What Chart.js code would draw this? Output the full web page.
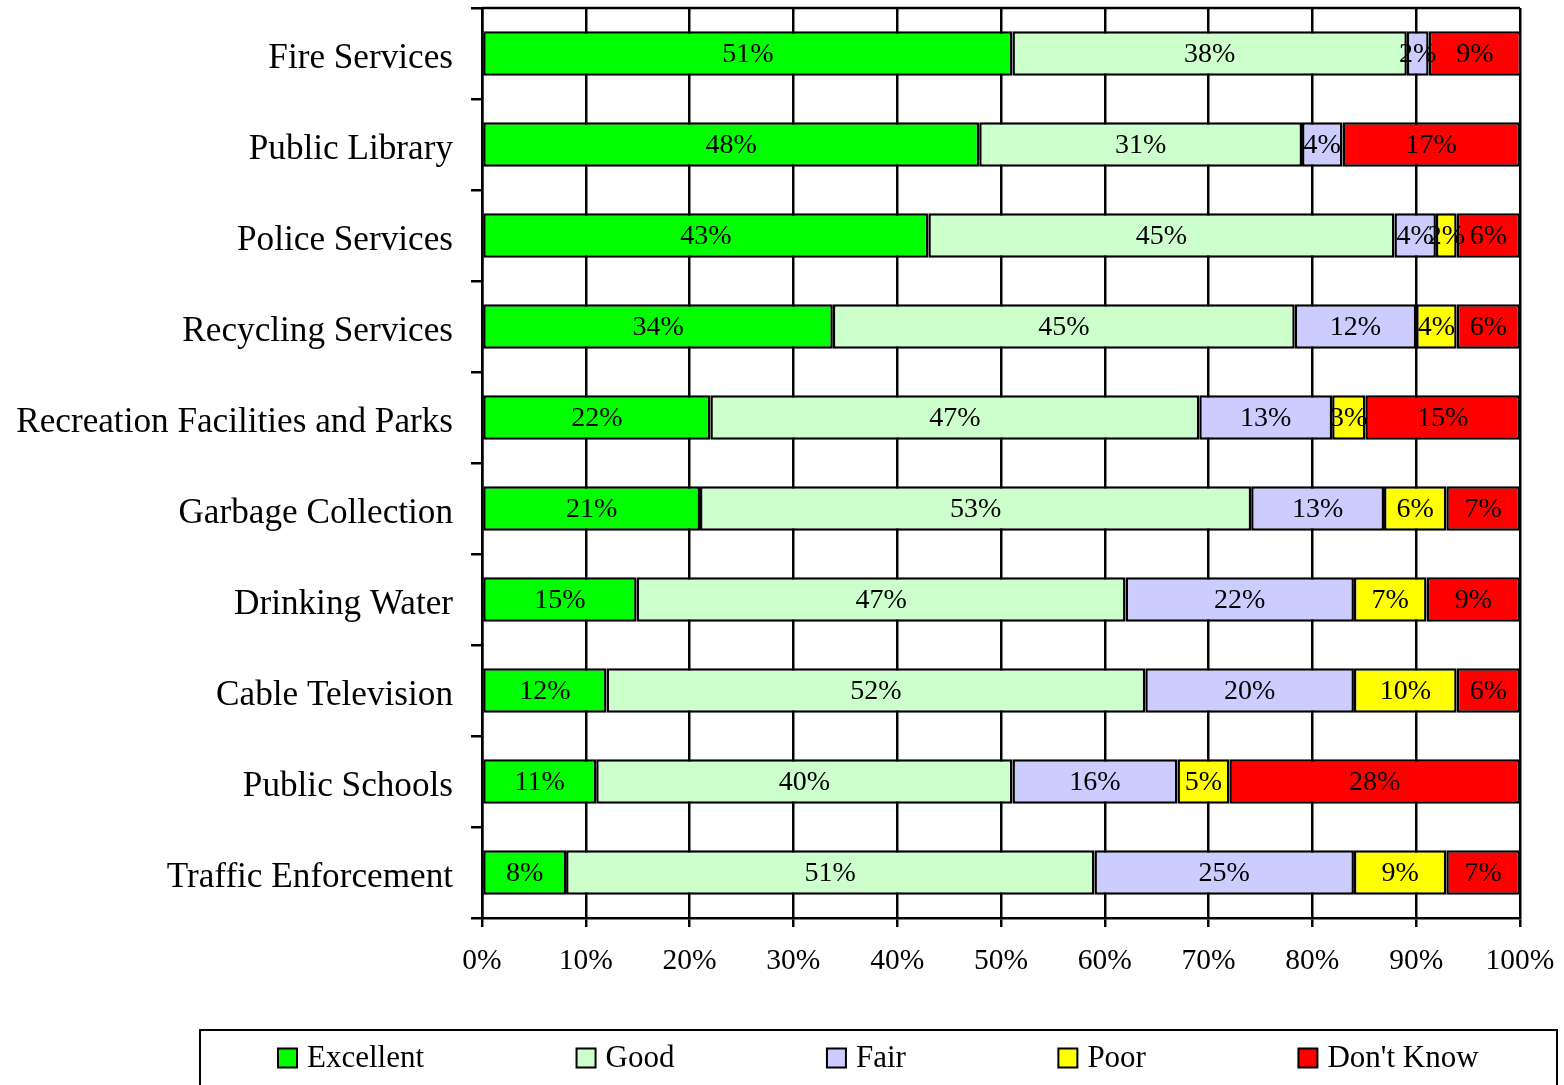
<!DOCTYPE html>
<html>
<head>
<meta charset="utf-8">
<title>Service ratings</title>
<script src="https://cdn.jsdelivr.net/npm/chart.js@4"></script>
<style>
  html, body { margin: 0; padding: 0; background: #fff; }
  #wrap { width: 1564px; height: 1085px; }
</style>
</head>
<body>
<div id="wrap"><canvas id="ratingChart" width="1564" height="1085"></canvas></div>
<script>
// services, top to bottom
const services = [
  "Fire Services", "Public Library", "Police Services", "Recycling Services",
  "Recreation Facilities and Parks", "Garbage Collection", "Drinking Water",
  "Cable Television", "Public Schools", "Traffic Enforcement"
];
const excellent = [51.1, 47.9, 43.0, 33.8, 22.0, 21.0, 14.9, 12.0, 11.0, 8.1];
const good      = [38.0, 31.1, 44.9, 44.5, 47.1, 53.1, 47.1, 51.9, 40.1, 50.9];
const fair      = [2.1, 3.9, 4.0, 11.7, 12.8, 12.8, 22.0, 20.1, 15.9, 25.0];
const poor      = [0, 0, 2.0, 3.9, 3.2, 6.0, 7.0, 9.9, 5.0, 8.9];
const dontKnow  = [8.9, 17.1, 6.1, 6.1, 14.9, 7.1, 9.0, 6.1, 28.0, 7.1];
const seriesNames = ["Excellent", "Good", "Fair", "Poor", "Don't Know"];
const seriesColors = ["#00FF00", "#CCFFCC", "#CCCCFF", "#FFFF00", "#FF0000"];
const tickValues = [0, 10, 20, 30, 40, 50, 60, 70, 80, 90, 100];

const serif = "'Liberation Serif', 'Times New Roman', serif";
const lw = 2.5;

const barLabels = {
  id: "barLabels",
  afterDatasetsDraw(chart) {
    const ctx = chart.ctx;
    ctx.save();
    ctx.font = "28px " + serif;
    ctx.fillStyle = "#000";
    ctx.textAlign = "center";
    ctx.textBaseline = "middle";
    chart.data.datasets.forEach((ds, i) => {
      const meta = chart.getDatasetMeta(i);
      meta.data.forEach((bar, j) => {
        const v = ds.data[j];
        if (!v) return;
        ctx.fillText(Math.round(v) + "%", (bar.x + bar.base) / 2, bar.y + 1);
      });
    });
    ctx.restore();
  }
};

const frameAndLegend = {
  id: "frameAndLegend",
  afterDraw(chart) {
    const ctx = chart.ctx;
    const a = chart.chartArea;
    ctx.save();
    ctx.strokeStyle = "#000";
    ctx.lineWidth = lw;
    ctx.beginPath();
    ctx.moveTo(a.left, a.top);
    ctx.lineTo(a.right, a.top);
    ctx.stroke();

    // legend box
    const boxL = 200, boxR = 1557, boxT = 1030;
    ctx.lineWidth = 2;
    ctx.beginPath();
    ctx.moveTo(boxL, 1090);
    ctx.lineTo(boxL, boxT);
    ctx.lineTo(boxR, boxT);
    ctx.lineTo(boxR, 1090);
    ctx.stroke();

    ctx.font = "31px " + serif;
    ctx.textBaseline = "middle";
    ctx.textAlign = "left";
    const sq = 19, gap = 10, spacing = 152.5;
    const items = chart.data.datasets.map(ds => ({
      label: ds.label, color: ds.backgroundColor, w: ctx.measureText(ds.label).width
    }));
    let x = 278;
    const cy = 1058;
    items.forEach(it => {
      ctx.fillStyle = it.color;
      ctx.fillRect(x, cy - sq / 2, sq, sq);
      ctx.strokeRect(x, cy - sq / 2, sq, sq);
      ctx.fillStyle = "#000";
      ctx.fillText(it.label, x + sq + gap, cy + 1);
      x += sq + gap + it.w + spacing;
    });
    ctx.restore();
  }
};

const seriesData = [excellent, good, fair, poor, dontKnow];

new Chart(document.getElementById("ratingChart"), {
  type: "bar",
  data: {
    labels: services,
    datasets: seriesNames.map((name, i) => ({
      label: name,
      data: seriesData[i],
      backgroundColor: seriesColors[i],
      borderColor: "#000",
      borderWidth: lw,
      borderSkipped: false,
      barPercentage: 0.49,
      categoryPercentage: 1
    }))
  },
  options: {
    indexAxis: "y",
    responsive: false,
    animation: false,
    layout: { padding: { left: 15, right: 44, top: 8, bottom: 107 } },
    plugins: {
      legend: { display: false },
      tooltip: { enabled: false }
    },
    scales: {
      x: {
        stacked: true,
        min: 0,
        max: 100,
        afterBuildTicks(scale) { scale.ticks = tickValues.map(v => ({ value: v })); },
        afterFit(scale) { scale.height = 60; scale.paddingLeft = 0; scale.paddingRight = 0; },
        grid: { color: "#000", lineWidth: lw, tickLength: 9, drawOnChartArea: true },
        border: { color: "#000", width: lw },
        ticks: {
          color: "#000",
          padding: 17,
          maxRotation: 0,
          font: { family: serif, size: 29.5 },
          callback: v => v + "%"
        }
      },
      y: {
        stacked: true,
        afterFit(scale) { scale.width = 467; scale.paddingTop = 0; scale.paddingBottom = 0; },
        grid: { color: "#000", lineWidth: lw, tickLength: 11, drawOnChartArea: false, offset: true },
        border: { color: "#000", width: lw },
        ticks: {
          color: "#000",
          padding: 18,
          labelOffset: 5,
          font: { family: serif, size: 35.2 }
        }
      }
    }
  },
  plugins: [barLabels, frameAndLegend]
});
</script>
</body>
</html>
